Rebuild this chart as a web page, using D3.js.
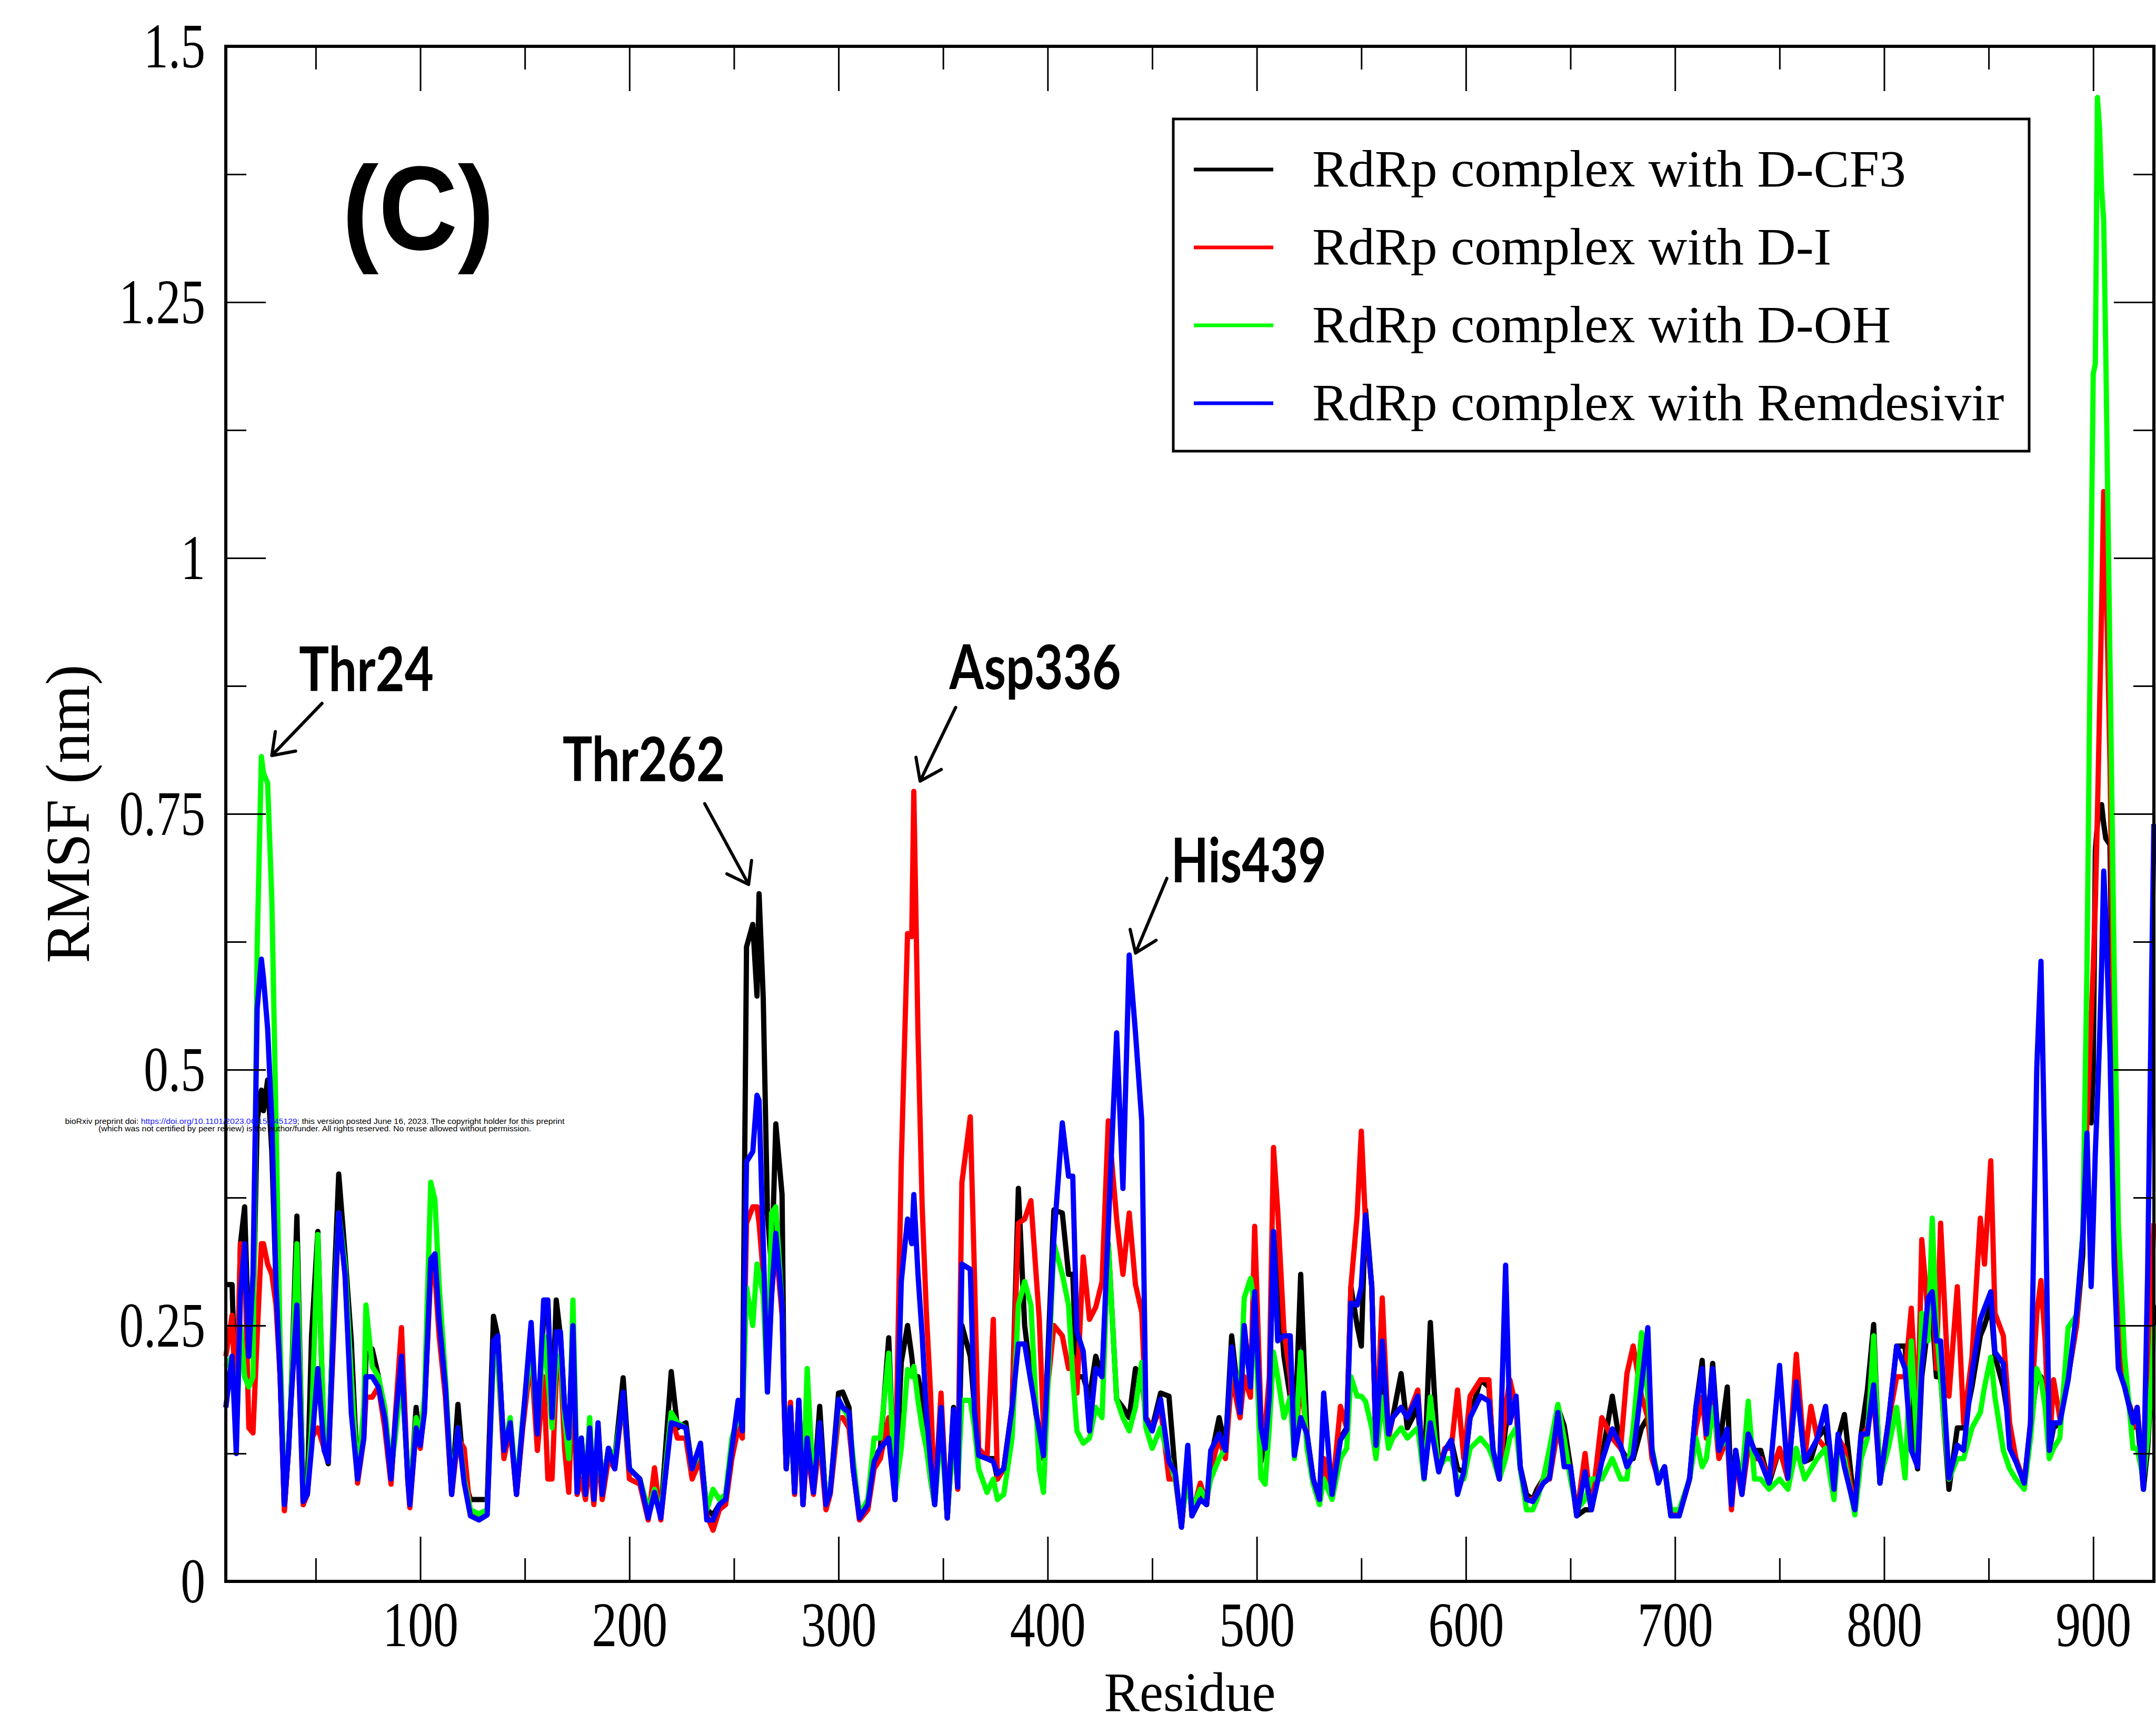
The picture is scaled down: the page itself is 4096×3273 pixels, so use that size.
<!DOCTYPE html>
<html>
<head>
<meta charset="utf-8">
<script src="https://cdn.jsdelivr.net/npm/d3@7"></script>
<style>
  html, body { margin: 0; padding: 0; background: #fff; overflow: hidden; }
</style>
</head>
<body>
<svg id="chart" width="4096" height="3273"></svg>
<script>
const residues = [
  7,10,12,14,16,18,20,22,24,25,
  27,29,31,33,35,37,38,41,44,46,
  48,51,54,56,59,61,64,67,70,73,
  74,77,80,83,86,88,91,94,95,98,
  100,102,105,107,109,112,115,118,121,124,
  128,132,135,137,140,143,146,149,153,156,
  159,161,163,165,167,169,171,173,175,177,
  179,181,183,185,187,190,193,197,200,205,
  209,212,215,220,223,227,230,234,237,240,
  243,246,249,252,254,256,259,261,262,264,
  266,268,270,273,274,275,277,279,281,283,
  285,288,291,294,296,300,302,305,307,310,
  314,317,320,324,327,330,333,335,336,338,
  340,342,344,346,349,352,355,357,359,363,
  365,367,371,374,376,379,383,386,389,392,
  396,398,403,407,410,412,414,417,420,423,
  426,429,433,436,439,442,445,447,450,454,
  458,461,464,467,469,473,476,478,482,485,
  488,492,494,497,499,502,504,506,508,510,
  513,516,518,521,524,527,530,532,536,540,
  543,545,548,550,552,555,557,560,563,565,
  569,572,577,580,583,587,590,593,596,599,
  602,607,611,613,616,619,621,624,626,629,
  632,634,637,640,644,647,650,653,657,660,
  665,670,674,677,680,684,687,689,692,695,
  698,702,707,710,713,715,718,721,725,727,
  729,732,735,738,741,745,750,754,758,762,
  765,768,772,776,778,781,786,789,792,795,
  798,802,806,810,813,816,818,821,823,825,
  827,831,835,838,842,846,848,851,853,857,
  860,863,867,870,873,875,877,879,881,884,
  888,892,895,897,899,900,901,902,903,904,
  905,906,908,910,912,915,919,921,924,926,
  928,929
];

// RMSF (nm), RdRp complex with D-CF3
const dcf3 = [
  .29,.29,.15,.33,.366,.23,.25,.45,.48,.46,
  .49,.42,.29,.2,.07,.13,.17,.357,.075,.09,
  .24,.342,.13,.115,.3,.398,.32,.235,.1,.15,
  .22,.227,.2,.16,.1,.15,.21,.105,.075,.17,
  .133,.17,.31,.32,.25,.19,.085,.173,.1,.08,
  .08,.08,.259,.24,.128,.155,.085,.155,.24,.144,
  .26,.27,.16,.275,.24,.17,.14,.25,.09,.14,
  .09,.15,.08,.15,.09,.13,.12,.199,.11,.1,
  .065,.1,.065,.205,.15,.155,.11,.13,.07,.065,
  .075,.08,.13,.17,.15,.62,.642,.572,.672,.57,
  .36,.305,.447,.378,.178,.11,.17,.087,.177,.075,
  .14,.087,.171,.075,.087,.184,.185,.17,.11,.062,
  .075,.12,.13,.238,.08,.214,.25,.22,.2,.2,
  .18,.14,.1,.075,.17,.062,.17,.092,.25,.22,
  .17,.123,.12,.12,.1,.11,.17,.384,.25,.2,
  .14,.12,.363,.36,.3,.3,.2,.2,.18,.22,
  .2,.33,.178,.17,.16,.208,.2,.16,.15,.184,
  .181,.106,.053,.12,.064,.085,.075,.12,.16,.13,
  .24,.165,.245,.2,.28,.117,.14,.18,.34,.3,
  .22,.18,.13,.3,.144,.1,.08,.12,.085,.14,
  .15,.288,.25,.23,.363,.288,.13,.2,.15,.16,
  .203,.15,.17,.1,.253,.11,.128,.138,.11,.107,
  .16,.197,.19,.128,.1,.15,.17,.17,.112,.085,
  .08,.09,.1,.101,.17,.152,.112,.064,.07,.07,
  .12,.181,.13,.12,.12,.15,.16,.128,.1,.112,
  .065,.065,.1,.17,.216,.14,.213,.128,.19,.075,
  .128,.09,.14,.128,.128,.096,.13,.1,.2,.117,
  .12,.14,.15,.09,.14,.163,.07,.144,.187,.251,
  .096,.155,.23,.23,.15,.11,.2,.25,.26,.2,
  .2,.09,.15,.15,.19,.24,.25,.27,.22,.19,
  .15,.12,.096,.15,.2,.2,.18,.128,.15,.155,
  .2,.25,.32,.555,.448,.5,.715,.74,.758,.759,
  .74,.726,.72,.45,.25,.19,.16,.16,.09,.13,
  .2,.27
];

// RdRp complex with D-I
const di = [
  .22,.26,.16,.33,.32,.15,.145,.24,.33,.33,
  .31,.3,.27,.2,.069,.13,.17,.27,.075,.085,
  .14,.15,.13,.117,.26,.36,.3,.2,.096,.14,
  .18,.18,.19,.15,.095,.16,.248,.1,.072,.15,
  .13,.17,.3,.3,.24,.18,.085,.14,.13,.065,
  .065,.07,.23,.22,.12,.15,.085,.15,.22,.128,
  .2,.1,.1,.2,.22,.13,.087,.2,.085,.1,
  .08,.12,.075,.13,.08,.12,.11,.18,.1,.095,
  .06,.111,.06,.16,.14,.14,.1,.12,.065,.05,
  .07,.075,.12,.15,.14,.35,.366,.366,.35,.3,
  .2,.28,.33,.26,.17,.11,.175,.085,.16,.075,
  .13,.085,.14,.07,.085,.16,.16,.15,.11,.06,
  .07,.11,.12,.16,.08,.408,.633,.63,.772,.535,
  .366,.263,.184,.075,.184,.062,.15,.09,.39,.454,
  .3,.13,.12,.256,.1,.11,.17,.35,.354,.372,
  .256,.15,.25,.24,.208,.22,.184,.317,.256,.268,
  .293,.45,.354,.3,.36,.29,.263,.16,.15,.17,
  .1,.1,.055,.11,.065,.096,.075,.11,.14,.12,
  .2,.16,.2,.18,.347,.16,.15,.2,.424,.363,
  .245,.2,.123,.2,.14,.1,.08,.12,.085,.171,
  .15,.288,.358,.44,.35,.288,.13,.277,.14,.16,
  .17,.16,.187,.1,.16,.11,.13,.13,.187,.12,
  .181,.197,.197,.12,.1,.17,.197,.17,.11,.08,
  .08,.085,.1,.1,.15,.12,.11,.065,.125,.07,
  .16,.14,.13,.203,.23,.181,.16,.12,.1,.11,
  .065,.065,.1,.15,.18,.14,.18,.12,.14,.07,
  .12,.085,.13,.12,.12,.1,.13,.1,.222,.12,
  .171,.14,.13,.09,.14,.13,.07,.14,.15,.18,
  .1,.155,.2,.2,.267,.15,.334,.26,.3,.208,
  .35,.181,.288,.155,.219,.355,.31,.411,.262,.24,
  .155,.12,.096,.155,.262,.294,.235,.128,.197,.16,
  .2,.25,.34,.45,.55,.6,.662,.75,.85,.95,
  1.065,1.0,.8,.5,.3,.2,.15,.17,.1,.15,
  .3,.35
];

// RdRp complex with D-OH
const doh = [
  .21,.22,.14,.25,.2,.19,.2,.62,.806,.79,
  .78,.667,.45,.23,.08,.13,.17,.33,.08,.09,
  .15,.339,.14,.13,.28,.36,.31,.2,.1,.17,
  .27,.21,.2,.17,.11,.14,.2,.11,.08,.16,
  .14,.18,.39,.373,.29,.2,.09,.15,.1,.07,
  .066,.07,.22,.22,.13,.16,.09,.16,.23,.15,
  .24,.2,.15,.22,.22,.16,.12,.275,.1,.13,
  .09,.16,.085,.14,.09,.13,.12,.18,.11,.1,
  .07,.09,.065,.165,.155,.15,.11,.13,.07,.09,
  .08,.085,.14,.16,.15,.287,.25,.31,.3,.28,
  .185,.36,.366,.27,.18,.12,.16,.09,.17,.08,
  .208,.09,.15,.08,.09,.17,.17,.16,.12,.065,
  .08,.14,.14,.223,.085,.13,.207,.2,.21,.177,
  .15,.13,.1,.075,.15,.065,.14,.095,.177,.177,
  .15,.11,.087,.1,.08,.085,.14,.27,.293,.27,
  .11,.087,.33,.3,.27,.2,.147,.135,.14,.17,
  .16,.33,.178,.16,.147,.17,.214,.15,.13,.15,
  .12,.1,.06,.1,.07,.09,.08,.1,.12,.13,
  .22,.18,.277,.296,.27,.101,.095,.15,.224,.2,
  .16,.18,.12,.224,.13,.095,.075,.1,.08,.12,
  .13,.2,.181,.181,.176,.15,.12,.18,.13,.14,
  .15,.14,.15,.1,.18,.11,.12,.12,.1,.1,
  .13,.14,.13,.12,.1,.12,.14,.15,.11,.07,
  .07,.08,.1,.13,.173,.14,.1,.07,.08,.1,
  .1,.12,.1,.1,.15,.243,.181,.13,.1,.11,
  .07,.07,.1,.14,.112,.12,.17,.13,.14,.09,
  .12,.1,.176,.1,.1,.09,.1,.09,.13,.1,
  .11,.12,.13,.08,.13,.12,.065,.12,.14,.24,
  .1,.13,.17,.101,.235,.12,.262,.235,.355,.25,
  .2,.1,.12,.12,.15,.165,.19,.219,.18,.128,
  .11,.1,.09,.14,.208,.197,.17,.12,.13,.14,
  .248,.26,.34,.6,1.0,1.18,1.19,1.45,1.42,1.36,
  1.33,1.2,.9,.6,.35,.22,.13,.13,.1,.14,
  .2,.25
];

// RdRp complex with Remdesivir
const remdesivir = [
  .17,.22,.125,.28,.33,.22,.3,.56,.608,.59,
  .54,.45,.29,.2,.075,.128,.17,.27,.078,.085,
  .13,.208,.128,.117,.27,.36,.3,.165,.1,.14,
  .2,.2,.19,.16,.1,.155,.22,.1,.075,.15,
  .133,.165,.315,.32,.256,.19,.085,.15,.096,.064,
  .06,.065,.235,.24,.128,.155,.085,.155,.253,.144,
  .275,.275,.16,.244,.244,.17,.14,.25,.087,.14,
  .085,.15,.08,.155,.085,.13,.11,.185,.11,.1,
  .062,.087,.062,.155,.153,.15,.11,.135,.06,.06,
  .075,.08,.13,.177,.147,.41,.42,.475,.47,.33,
  .185,.28,.34,.27,.178,.11,.17,.087,.177,.075,
  .14,.087,.155,.075,.087,.178,.17,.165,.11,.062,
  .075,.117,.13,.14,.08,.293,.354,.33,.378,.3,
  .24,.165,.117,.075,.17,.062,.168,.092,.31,.305,
  .166,.123,.12,.117,.105,.11,.17,.232,.232,.195,
  .147,.123,.335,.448,.396,.396,.244,.225,.147,.208,
  .2,.347,.536,.384,.612,.536,.45,.159,.147,.178,
  .117,.106,.053,.133,.064,.08,.075,.128,.144,.128,
  .229,.165,.25,.19,.283,.15,.13,.181,.342,.235,
  .24,.24,.123,.16,.144,.1,.08,.184,.085,.138,
  .148,.272,.27,.288,.358,.288,.133,.235,.144,.16,
  .17,.16,.181,.101,.155,.107,.128,.138,.085,.107,
  .16,.181,.176,.128,.1,.309,.155,.181,.112,.08,
  .078,.085,.096,.101,.165,.112,.112,.064,.107,.07,
  .117,.149,.133,.112,.123,.192,.248,.128,.096,.112,
  .064,.064,.101,.17,.208,.144,.208,.128,.149,.075,
  .128,.085,.144,.128,.117,.096,.211,.101,.195,.117,
  .128,.139,.171,.09,.144,.112,.07,.144,.144,.192,
  .096,.155,.23,.208,.128,.112,.208,.277,.283,.235,
  .235,.101,.133,.128,.203,.256,.267,.283,.224,.213,
  .13,.117,.096,.155,.502,.606,.395,.128,.155,.155,
  .197,.262,.336,.438,.288,.35,.42,.47,.528,.6,
  .694,.65,.518,.31,.208,.19,.155,.17,.09,.3,
  .6,.74
];

const seriesNames = [
  "RdRp complex with D-CF3",
  "RdRp complex with D-I",
  "RdRp complex with D-OH",
  "RdRp complex with Remdesivir"
];
const seriesValues = [dcf3, di, doh, remdesivir];
const seriesColors = ["#000000", "#ff0000", "#00ff00", "#0000ff"];

const xTicks = [100, 200, 300, 400, 500, 600, 700, 800, 900];
const xMinorTicks = [50, 150, 250, 350, 450, 550, 650, 750, 850];
const yTicks = [0, 0.25, 0.5, 0.75, 1, 1.25, 1.5];
const yTickLabels = ["0", "0.25", "0.5", "0.75", "1", "1.25", "1.5"];
const yMinorTicks = [0.125, 0.375, 0.625, 0.875, 1.125, 1.375];

// labelled residues: text anchor and arrow tail/tip in data units
const annotations = [
  {label: "Thr24",  tx: 42,  ty: 0.870, fx: 53,  fy: 0.858, px: 29,  py: 0.807, w: 256},
  {label: "Thr262", tx: 168, ty: 0.782, fx: 236, fy: 0.760, px: 257, py: 0.681, w: 309},
  {label: "Asp336", tx: 353, ty: 0.872, fx: 356, fy: 0.854, px: 339, py: 0.782, w: 326},
  {label: "His439", tx: 459, ty: 0.683, fx: 457, fy: 0.687, px: 442, py: 0.614, w: 295}
];

const svg = d3.select("#chart");
const serif = "'Liberation Serif', 'Times New Roman', serif";

const x = d3.scaleLinear().domain([7, 929]).range([429, 4092]);
const y = d3.scaleLinear().domain([0, 1.5]).range([3004, 88]);

// squeeze text horizontally like the narrow serif in the original
function squeeze(k) {
  return function () {
    const w = this.getComputedTextLength();
    this.setAttribute("textLength", w * k);
    this.setAttribute("lengthAdjust", "spacingAndGlyphs");
  };
}

// curves, drawn black, red, green, blue so blue ends on top
const n = Math.min(residues.length, d3.min(seriesValues, s => s.length));
const line = d3.line().x(d => x(d[0])).y(d => y(d[1]));

seriesValues.forEach((vals, s) => {
  const pts = d3.range(n).map(i => [residues[i], vals[i]]);
  svg.append("path")
    .datum(pts)
    .attr("fill", "none")
    .attr("stroke", seriesColors[s])
    .attr("stroke-width", 10)
    .attr("stroke-linejoin", "round")
    .attr("d", line);
});

// axes (ticks inside the frame on all four sides)
function styleAxis(g) {
  g.select(".domain").remove();
  g.selectAll("line").attr("stroke", "#000").attr("stroke-width", 3);
  g.attr("font-family", serif).attr("font-size", 120);
}

const gx = svg.append("g")
  .attr("transform", `translate(0,${y(0)})`)
  .call(d3.axisBottom(x).tickValues(xTicks).tickSizeInner(-85).tickSizeOuter(0)
    .tickPadding(38).tickFormat(d3.format("d")))
  .call(styleAxis);
gx.selectAll("text").attr("fill", "#000").each(squeeze(0.8));

svg.append("g")
  .attr("transform", `translate(0,${y(0)})`)
  .call(d3.axisBottom(x).tickValues(xMinorTicks).tickSizeInner(-44).tickSizeOuter(0).tickFormat(""))
  .call(styleAxis);

svg.append("g")
  .attr("transform", `translate(0,${y(1.5)})`)
  .call(d3.axisTop(x).tickValues(xTicks).tickSizeInner(-85).tickSizeOuter(0).tickFormat(""))
  .call(styleAxis);
svg.append("g")
  .attr("transform", `translate(0,${y(1.5)})`)
  .call(d3.axisTop(x).tickValues(xMinorTicks).tickSizeInner(-44).tickSizeOuter(0).tickFormat(""))
  .call(styleAxis);

const gy = svg.append("g")
  .attr("transform", `translate(${x(7)},0)`)
  .call(d3.axisLeft(y).tickValues(yTicks).tickSizeInner(-76).tickSizeOuter(0)
    .tickPadding(39).tickFormat((d, i) => yTickLabels[i]))
  .call(styleAxis);
gy.selectAll("text").attr("fill", "#000").attr("dy", "0.33em").each(squeeze(0.78));

svg.append("g")
  .attr("transform", `translate(${x(7)},0)`)
  .call(d3.axisLeft(y).tickValues(yMinorTicks).tickSizeInner(-39).tickSizeOuter(0).tickFormat(""))
  .call(styleAxis);

svg.append("g")
  .attr("transform", `translate(${x(929)},0)`)
  .call(d3.axisRight(y).tickValues(yTicks).tickSizeInner(-76).tickSizeOuter(0).tickFormat(""))
  .call(styleAxis);
svg.append("g")
  .attr("transform", `translate(${x(929)},0)`)
  .call(d3.axisRight(y).tickValues(yMinorTicks).tickSizeInner(-39).tickSizeOuter(0).tickFormat(""))
  .call(styleAxis);

// frame
svg.append("rect")
  .attr("x", x(7)).attr("y", y(1.5))
  .attr("width", x(929) - x(7)).attr("height", y(0) - y(1.5))
  .attr("fill", "none").attr("stroke", "#000").attr("stroke-width", 6);

// axis titles
svg.append("text")
  .attr("x", (x(7) + x(929)) / 2).attr("y", 3250)
  .attr("text-anchor", "middle")
  .attr("font-family", serif).attr("font-size", 106)
  .attr("textLength", 326).attr("lengthAdjust", "spacingAndGlyphs")
  .text("Residue");

svg.append("text")
  .attr("transform", `translate(169,${(y(0) + y(1.5)) / 2}) rotate(-90)`)
  .attr("text-anchor", "middle")
  .attr("font-family", serif).attr("font-size", 118)
  .attr("textLength", 567).attr("lengthAdjust", "spacingAndGlyphs")
  .text("RMSF (nm)");

// panel letter
svg.append("text")
  .attr("x", 650).attr("y", 474)
  .attr("font-family", "'Liberation Sans', Arial, sans-serif")
  .attr("font-weight", "bold").attr("font-size", 226)
  .attr("textLength", 289).attr("lengthAdjust", "spacingAndGlyphs")
  .text("(C)");

// legend
const legend = svg.append("g").attr("transform", "translate(2229,226)");
legend.append("rect")
  .attr("width", 1626).attr("height", 631)
  .attr("fill", "#fff").attr("stroke", "#000").attr("stroke-width", 5);

const rows = legend.selectAll("g.row")
  .data(seriesNames)
  .enter().append("g")
  .attr("class", "row")
  .attr("transform", (d, i) => `translate(0,${96 + i * 148})`);

rows.append("line")
  .attr("x1", 39).attr("x2", 190)
  .attr("stroke", (d, i) => seriesColors[i])
  .attr("stroke-width", 7);

const legendText = rows.append("text")
  .attr("x", 264).attr("y", 32)
  .attr("font-family", serif).attr("font-size", 100)
  .attr("fill", "#000")
  .text(d => d);
const k0 = 1128 / legendText.node().getComputedTextLength();
legendText.each(squeeze(k0));

// residue call-outs
const ann = svg.append("g");
annotations.forEach(a => {
  ann.append("text")
    .attr("x", x(a.tx)).attr("y", y(a.ty))
    .attr("font-family", "Lato, 'Open Sans', sans-serif")
    .attr("font-weight", 700).attr("font-size", 116)
    .attr("textLength", a.w).attr("lengthAdjust", "spacingAndGlyphs")
    .text(a.label);

  const x0 = x(a.fx), y0 = y(a.fy), x1 = x(a.px), y1 = y(a.py);
  const ang = Math.atan2(y1 - y0, x1 - x0);
  const len = 46, spread = 0.62;
  const b1 = [x1 - len * Math.cos(ang - spread), y1 - len * Math.sin(ang - spread)];
  const b2 = [x1 - len * Math.cos(ang + spread), y1 - len * Math.sin(ang + spread)];
  ann.append("path")
    .attr("d", `M${x0},${y0}L${x1},${y1}M${b1[0]},${b1[1]}L${x1},${y1}L${b2[0]},${b2[1]}`)
    .attr("fill", "none").attr("stroke", "#000")
    .attr("stroke-width", 6).attr("stroke-linecap", "round").attr("stroke-linejoin", "round");
});

// preprint notice stamped over the figure
const notice = svg.append("g")
  .attr("font-family", "'Liberation Sans', Arial, sans-serif")
  .attr("font-size", 14).attr("text-anchor", "middle");
const l1 = notice.append("text")
  .attr("x", 598).attr("y", 2135)
  .attr("textLength", 949).attr("lengthAdjust", "spacingAndGlyphs");
l1.append("tspan").attr("fill", "#000").text("bioRxiv preprint doi: ");
l1.append("tspan").attr("fill", "#1a1aff").text("https://doi.org/10.1101/2023.06.15.545129");
l1.append("tspan").attr("fill", "#000").text("; this version posted June 16, 2023. The copyright holder for this preprint");
notice.append("text")
  .attr("x", 598).attr("y", 2149)
  .attr("textLength", 822).attr("lengthAdjust", "spacingAndGlyphs")
  .attr("fill", "#000")
  .text("(which was not certified by peer review) is the author/funder. All rights reserved. No reuse allowed without permission.");
</script>
</body>
</html>
